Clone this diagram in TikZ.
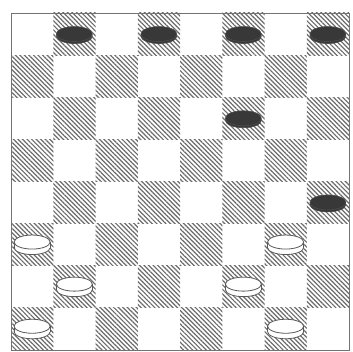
\documentclass[tikz,border=0pt]{standalone}
\usepackage{tikz}
\usetikzlibrary{patterns.meta}

\begin{document}
\begin{tikzpicture}[
    x=1pt, y=-1pt,
    darksq/.style={pattern={Lines[angle=-45, distance=3.2pt, line width=1.2pt]}, pattern color=black!58},
    blackman/.style={fill=black!78, draw=black!70, line width=0.6pt},
    whiteman/.style={fill=white, draw=black!65, line width=0.8pt},
]
\useasboundingbox (0,0) rectangle (352,352);
\def\sq{42.25}

% hatched squares
\foreach \r in {0,...,7}
  \foreach \c in {0,...,7} {
    \pgfmathtruncatemacro\odd{mod(\r+\c,2)}
    \ifnum\odd=1
      \fill[darksq] (11+\c*\sq,13+\r*42.1) rectangle (11+\c*\sq+\sq,13+\r*42.1+42.1);
    \fi
  }

% board edge
\draw[black!55, line width=0.8pt] (11,13) rectangle (349,350);

% black men
\foreach \c/\r in {1/0, 3/0, 5/0, 7/0, 5/2, 7/4} {
  \pgfmathsetmacro\px{11+\sq*(\c+0.5)}
  \pgfmathsetmacro\py{13+42.1*(\r+0.5)}
  \filldraw[blackman] (\px,\py+2) ellipse[x radius=18, y radius=7.5];
  \filldraw[blackman] (\px,\py) ellipse[x radius=18, y radius=7.5];
}

% white men
\foreach \c/\r in {0/5, 6/5, 1/6, 5/6, 0/7, 6/7} {
  \pgfmathsetmacro\px{11+\sq*(\c+0.5)}
  \pgfmathsetmacro\py{13+42.1*(\r+0.5)}
  \filldraw[whiteman] (\px,\py+3) ellipse[x radius=18, y radius=7];
  \fill[white] (\px-18,\py-2.5) rectangle (\px+18,\py+3);
  \draw[whiteman] (\px-18,\py-2.5) -- (\px-18,\py+3) (\px+18,\py-2.5) -- (\px+18,\py+3);
  \filldraw[whiteman] (\px,\py-2.5) ellipse[x radius=18, y radius=7];
}
\end{tikzpicture}
\end{document}
